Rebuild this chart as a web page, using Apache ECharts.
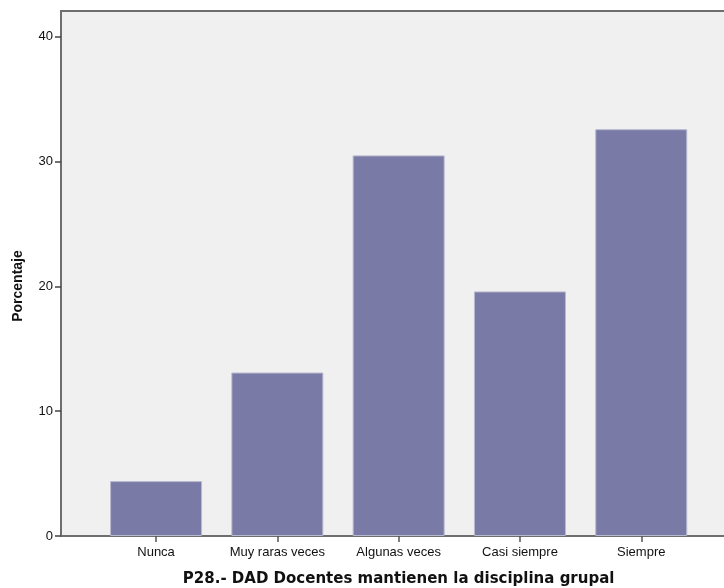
<!DOCTYPE html>
<html>
<head>
<meta charset="utf-8">
<script src="https://cdn.jsdelivr.net/npm/echarts@6/dist/echarts.min.js"></script>
<style>html,body{margin:0;padding:0;background:#fff}#c{width:724px;height:588px}</style>
</head>
<body>
<div id="c"></div>
<script>
const categories = ['Nunca', 'Muy raras veces', 'Algunas veces', 'Casi siempre', 'Siempre'];
const values = [4.4, 13.1, 30.5, 19.6, 32.6];
const yTicks = [0, 10, 20, 30, 40];
const xTitle = 'P28.- DAD Docentes mantienen la disciplina grupal';
const yTitle = 'Porcentaje';

const chart = echarts.init(document.getElementById('c'), null, {renderer: 'canvas'});
const font = 'Arial, "Liberation Sans", sans-serif';
const titleFont = '"DejaVu Sans", Verdana, sans-serif';
const yMax = 42.07;
chart.setOption({
  animation: false,
  backgroundColor: '#ffffff',
  grid: [
    {left: 61, top: 11, width: 700, height: 525, outerBoundsMode: 'none', containLabel: false,
      show: true, backgroundColor: '#F0F0F0', borderColor: '#6e6e6e', borderWidth: 2},
    {left: 95.4, width: 606.5, top: 11, height: 525, outerBoundsMode: 'none', containLabel: false}
  ],
  xAxis: [
    {gridIndex: 0, type: 'value', show: false, min: 0, max: 1},
    {gridIndex: 1, type: 'category', data: categories,
      axisLine: {show: false},
      axisTick: {show: true, alignWithLabel: true, interval: 0, length: 6, lineStyle: {color: '#555', width: 1.5}},
      axisLabel: {interval: 0, hideOverlap: false, color: '#111', fontFamily: font, fontSize: 13, margin: 10},
      name: xTitle, nameLocation: 'middle', nameGap: 36,
      nameTextStyle: {fontFamily: titleFont, fontWeight: 'bold', fontSize: 15, color: '#111'}
    }
  ],
  yAxis: [
    {gridIndex: 0, type: 'value', min: 0, max: yMax, interval: 10,
      axisLine: {show: true, lineStyle: {color: '#6e6e6e', width: 2}},
      axisTick: {show: true, length: 6, customValues: yTicks, lineStyle: {color: '#444', width: 1.5}},
      axisLabel: {customValues: yTicks, color: '#111', fontFamily: font, fontSize: 13, margin: 8},
      splitLine: {show: false}
    },
    {gridIndex: 1, type: 'value', min: 0, max: yMax, show: false, splitLine: {show: false}}
  ],
  graphic: [
    {type: 'text', x: 18, y: 286, rotation: Math.PI / 2,
      style: {text: yTitle, fontFamily: font, fontWeight: 'bold', fontSize: 14, fill: '#111', align: 'center', verticalAlign: 'middle'}}
  ],
  series: [{
    type: 'bar', xAxisIndex: 1, yAxisIndex: 1, data: values, barWidth: 92,
    itemStyle: {color: '#7A7AA7', borderColor: '#B9B9D0', borderWidth: 1}
  }, {
    type: 'line', xAxisIndex: 0, yAxisIndex: 0, data: [[0, 0]], symbol: 'none', silent: true
  }]
});
</script>
</body>
</html>
